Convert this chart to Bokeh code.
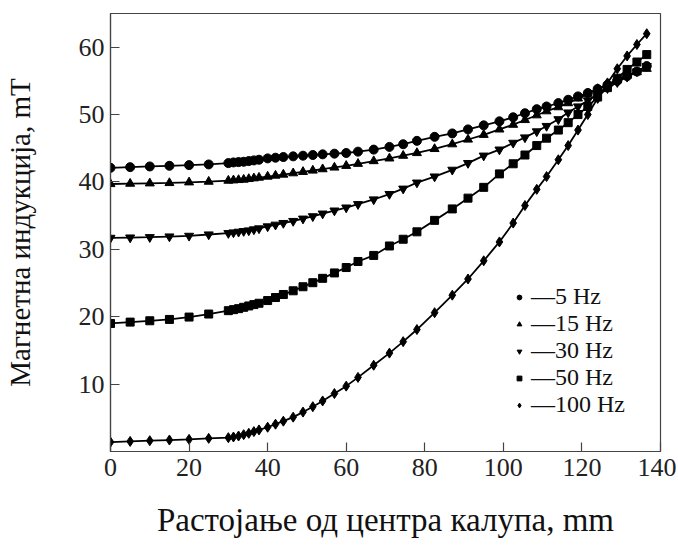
from bokeh.plotting import figure
from bokeh.models import Range1d, FixedTicker, Legend, LegendItem
from bokeh.embed import file_html
from bokeh.resources import INLINE

# Distance from mould centre, mm (sample positions)
distance = [0, 5, 10, 15, 20, 25, 30, 31.3, 32.6, 33.9, 35.2, 36.5, 37.8, 40, 42, 44,
            46.5, 49, 51.5, 54, 57, 60, 63, 67, 71, 74.5, 78, 82.5, 87, 91, 95, 99,
            102.5, 105.5, 108.5, 111, 114, 116.5, 119, 121.5, 124, 126.5, 129, 131.5,
            134, 136.5]

# Magnetic induction, mT
b_5hz = [42.1, 42.2, 42.3, 42.4, 42.5, 42.6, 42.8, 42.9, 42.95, 43.0, 43.1, 43.2, 43.3,
         43.5, 43.6, 43.7, 43.8, 43.9, 44.0, 44.1, 44.2, 44.3, 44.5, 44.8, 45.2, 45.6,
         46.1, 46.7, 47.2, 47.8, 48.4, 49.0, 49.6, 50.2, 50.8, 51.2, 51.7, 52.2, 52.7,
         53.2, 53.8, 54.4, 55.0, 55.7, 56.4, 57.2]
b_15hz = [39.7, 39.75, 39.8, 39.85, 39.95, 40.05, 40.2, 40.25, 40.3, 40.35, 40.45, 40.55,
          40.65, 40.8, 40.95, 41.1, 41.3, 41.5, 41.7, 41.9, 42.15, 42.4, 42.7, 43.1, 43.5,
          43.9, 44.3, 44.9, 45.6, 46.3, 47.0, 47.8, 48.5, 49.2, 49.9, 50.5, 51.1, 51.7,
          52.4, 53.1, 53.8, 54.5, 55.2, 55.8, 56.3, 56.8]
b_30hz = [31.7, 31.75, 31.8, 31.9, 32.0, 32.2, 32.4, 32.5, 32.6, 32.7, 32.8, 32.95, 33.1,
          33.4, 33.65, 33.9, 34.2, 34.55, 34.9, 35.3, 35.75, 36.2, 36.7, 37.4, 38.2, 39.0,
          39.9, 40.8, 41.8, 42.8, 43.9, 44.8, 45.8, 46.6, 47.5, 48.3, 49.3, 50.3, 51.2,
          52.1, 53.0, 53.9, 54.8, 55.6, 56.4, 57.2]
b_50hz = [19.0, 19.2, 19.4, 19.6, 19.95, 20.4, 20.9, 21.05, 21.2, 21.4, 21.6, 21.8, 22.0,
          22.4, 22.85, 23.3, 23.85, 24.45, 25.05, 25.7, 26.5, 27.3, 28.2, 29.1, 30.5, 31.5,
          32.6, 34.3, 36.0, 37.6, 39.2, 41.2, 42.7, 44.0, 45.4, 46.5, 47.7, 48.8, 50.0,
          51.2, 52.6, 54.0, 55.4, 56.7, 57.8, 58.9]
b_100hz = [1.4, 1.5, 1.6, 1.7, 1.8, 1.95, 2.05, 2.15, 2.3, 2.5, 2.7, 2.95, 3.2, 3.6, 4.05,
           4.5, 5.1, 5.85, 6.65, 7.5, 8.6, 9.7, 11.0, 12.8, 14.6, 16.3, 18.1, 20.6, 23.2,
           25.6, 28.3, 31.1, 33.9, 36.5, 38.9, 40.8, 43.3, 45.4, 47.7, 50.0, 52.4, 54.7,
           56.8, 58.7, 60.4, 62.0]

series_labels = ["—5 Hz", "—15 Hz", "—30 Hz", "—50 Hz", "—100 Hz"]
x_ticks = [0, 20, 40, 60, 80, 100, 120, 140]
y_ticks = [10, 20, 30, 40, 50, 60]

FONT = "Liberation Serif"

p = figure(width=676, height=546, output_backend="svg", toolbar_location=None,
           x_range=Range1d(0, 140), y_range=Range1d(0, 65),
           min_border_left=109, min_border_right=16, min_border_top=13,
           min_border_bottom=95)
p.background_fill_color = "white"
p.border_fill_color = "white"
p.outline_line_color = "#444444"
p.outline_line_width = 1.2
p.grid.visible = False

for ax in (p.xaxis[0], p.yaxis[0]):
    ax.axis_line_color = "#444444"
    ax.axis_line_width = 1.2
    ax.major_tick_in = 9
    ax.major_tick_out = 0
    ax.major_tick_line_color = "#444444"
    ax.major_tick_line_width = 1.2
    ax.minor_tick_line_color = None
    ax.major_label_text_font = FONT
    ax.major_label_text_font_size = "26px"
    ax.major_label_text_color = "#222222"
    ax.axis_label_text_font = FONT
    ax.axis_label_text_font_style = "normal"
    ax.axis_label_text_color = "#111111"

p.xaxis.ticker = FixedTicker(ticks=x_ticks)
p.yaxis.ticker = FixedTicker(ticks=y_ticks)
p.xaxis.major_label_standoff = 7
p.yaxis.major_label_standoff = 6
p.xaxis.axis_label = "Растојање од центра калупа, mm"
p.yaxis.axis_label = "Магнетна индукција, mT"
p.xaxis.axis_label_text_font_size = "33px"
p.yaxis.axis_label_text_font_size = "29px"
p.xaxis.axis_label_standoff = 23
p.yaxis.axis_label_standoff = 40

series = [b_5hz, b_15hz, b_30hz, b_50hz, b_100hz]
markers = ["circle", "triangle", "inverted_triangle", "square", "diamond"]
sizes = [9, 9, 9, 8, 10]

items = []
for vals, mk, sz, lab in zip(series, markers, sizes, series_labels):
    p.line(distance, vals, line_color="black", line_width=1.8)
    r = p.scatter(distance, vals, marker=mk, size=sz, fill_color="black",
                  line_color="black")
    items.append(LegendItem(label=lab, renderers=[r]))

legend = Legend(items=items, location=(403, 33), border_line_color=None,
                background_fill_alpha=0, padding=0, margin=0, spacing=0,
                glyph_width=12, glyph_height=20, label_standoff=6,
                label_height=20, label_text_font=FONT, label_text_font_size="24px",
                label_text_color="#111111")
p.add_layout(legend)

open("out.html", "w").write(file_html(p, INLINE))
